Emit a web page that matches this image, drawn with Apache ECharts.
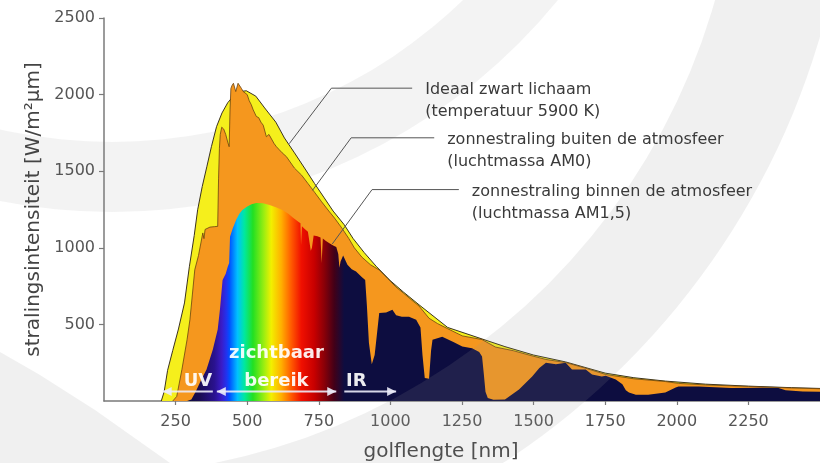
<!DOCTYPE html>
<html>
<head>
<meta charset="utf-8">
<script src="https://cdn.jsdelivr.net/npm/echarts@6/dist/echarts.min.js"></script>
<style>
  html, body { margin: 0; padding: 0; background: #ffffff; }
  #chart { width: 820px; height: 463px; }
</style>
</head>
<body>
<div id="chart"></div>
<script>
// Spectral irradiance, [wavelength in nm, W/m²µm]

// Ideal black body at 5900 K
const blackBody = [
  [200, 0], [210, 60], [222, 200], [240, 330], [260, 470], [281, 640], [298, 876],
  [315, 1080], [327, 1248], [343, 1400], [359, 1529], [375, 1660], [393, 1791],
  [412, 1880], [432, 1947], [456, 2000], [475, 2020], [497, 2025], [530, 1990],
  [561, 1913], [600, 1820], [630, 1717], [665, 1620], [700, 1521], [735, 1420],
  [769, 1326], [800, 1240], [839, 1150], [870, 1060], [908, 970], [950, 880],
  [1000, 785], [1045, 712], [1100, 628], [1200, 480], [1320, 405], [1400, 355],
  [1500, 300], [1612, 255], [1750, 182], [1850, 152], [1960, 130], [2100, 110],
  [2250, 97], [2400, 87], [2500, 82]
];

// Solar irradiance outside the atmosphere (AM0)
const am0 = [
  [240, 0], [254, 30], [272, 205], [290, 400], [300, 530], [317, 857], [330, 950],
  [345, 1097], [349, 1060], [353, 1120], [358, 1130], [370, 1135], [385, 1138],
  [397, 1140], [400, 1450], [403, 1650], [406, 1740], [411, 1787], [418, 1775],
  [425, 1740], [432, 1690], [437, 1660], [440, 1900], [443, 2040], [447, 2060],
  [452, 2074], [456, 2066], [460, 2020], [464, 2030], [468, 2074], [474, 2068],
  [480, 2040], [486, 2020], [492, 2010], [500, 2000], [507, 1960], [514, 1935],
  [521, 1900], [532, 1857], [540, 1850], [548, 1820], [556, 1800], [567, 1725],
  [576, 1740], [585, 1710], [594, 1680], [602, 1660], [612, 1640], [622, 1620],
  [637, 1595], [650, 1560], [665, 1520], [690, 1474], [712, 1420], [735, 1363],
  [760, 1300], [785, 1240], [805, 1194], [830, 1130], [855, 1060], [874, 1000],
  [900, 940], [930, 890], [961, 855], [990, 800], [1019, 745], [1045, 705],
  [1080, 650], [1100, 620], [1135, 540], [1165, 505], [1200, 472], [1251, 425],
  [1320, 401], [1367, 352], [1430, 328], [1484, 300], [1543, 271], [1612, 251],
  [1680, 215], [1752, 173], [1850, 145], [1960, 127], [2006, 115], [2100, 105],
  [2250, 95], [2400, 85], [2500, 80]
];

// Solar irradiance at sea level (AM1.5)
const am15 = [
  [290, 0], [305, 10], [320, 60], [340, 140], [358, 205], [380, 336], [397, 466],
  [405, 600], [414, 790], [425, 830], [432, 877], [437, 900], [440, 1072],
  [450, 1130], [462, 1184], [472, 1220], [483, 1246], [500, 1270], [515, 1285],
  [532, 1292], [555, 1290], [578, 1279], [600, 1265], [623, 1246], [645, 1220],
  [658, 1200], [675, 1175], [686, 1160], [688, 1020], [691, 1140], [700, 1125],
  [712, 1105], [718, 1095], [722, 980], [726, 1000], [732, 1080], [745, 1075],
  [756, 1068], [760, 900], [764, 1060], [775, 1045], [787, 1030], [800, 1015],
  [811, 1005], [818, 960], [822, 870], [826, 910], [835, 950], [850, 890],
  [865, 860], [880, 845], [900, 810], [912, 790], [918, 620], [925, 380],
  [935, 240], [945, 300], [952, 420], [961, 575], [985, 577], [1007, 595],
  [1020, 560], [1040, 550], [1065, 550], [1090, 530], [1105, 480], [1112, 300],
  [1120, 150], [1135, 145], [1142, 330], [1147, 400], [1181, 420], [1220, 385],
  [1251, 355], [1285, 345], [1310, 320], [1320, 290], [1326, 180], [1332, 60],
  [1340, 20], [1360, 8], [1400, 10], [1449, 75], [1495, 160], [1520, 215],
  [1543, 250], [1578, 240], [1612, 250], [1634, 205], [1682, 205], [1704, 173],
  [1738, 160], [1752, 165], [1787, 140], [1810, 110], [1822, 70], [1833, 55],
  [1857, 40], [1900, 40], [1960, 55], [1996, 88], [2006, 95], [2052, 95],
  [2076, 95], [2190, 85], [2300, 86], [2355, 85], [2380, 70], [2440, 62], [2500, 60]
];

// Colour of the visible light along the wavelength axis
const spectrumColours = [
  [290, '#0d0d40'], [334, '#1a0c52'], [386, '#2a1290'], [411, '#3a1cc8'],
  [428, '#2034f0'], [438, '#0050ff'], [466, '#00c0ff'], [490, '#00e8a0'],
  [520, '#22e022'], [560, '#a0ee10'], [584, '#f2f000'], [619, '#ffb000'],
  [654, '#ff5a00'], [689, '#f01000'], [734, '#c80000'], [769, '#8a0008'],
  [804, '#420018'], [839, '#0d0d40'], [2500, '#0d0d40']
];

const xTicks = { min: 0, max: 2500, step: 250 };
const yTicks = { min: 0, max: 2500, step: 500 };

const FONT = 'DejaVu Sans';
const chart = echarts.init(document.getElementById('chart'), null, { renderer: 'canvas' });

const wlStart = am15[0][0];
const wlEnd = am15[am15.length - 1][0];
const spectrumFill = new echarts.graphic.LinearGradient(0, 0, 1, 0,
  spectrumColours.map(([nm, c]) => ({ offset: (nm - wlStart) / (wlEnd - wlStart), color: c })));

const plainNumber = v => String(v);

chart.setOption({
  animation: false,
  backgroundColor: '#ffffff',
  grid: { left: 104, right: 0, top: 18, bottom: 62, containLabel: false, outerBoundsMode: 'none' },
  xAxis: {
    type: 'value',
    min: xTicks.min, max: xTicks.max, interval: xTicks.step,
    name: 'golflengte [nm]',
    nameLocation: 'middle',
    nameGap: 41,
    nameTextStyle: { fontFamily: FONT, fontSize: 20, color: '#444', padding: [0, 42, 0, 0] },
    axisLine: { show: true, lineStyle: { color: '#7a7a7a', width: 1.5 } },
    axisTick: { show: true, length: 4, lineStyle: { color: '#7a7a7a', width: 1.2 } },
    axisLabel: { fontFamily: FONT, fontSize: 16, color: '#555', margin: 13, showMinLabel: false, showMaxLabel: false, formatter: plainNumber },
    splitLine: { show: false }
  },
  yAxis: {
    type: 'value',
    min: yTicks.min, max: yTicks.max, interval: yTicks.step,
    name: 'stralingsintensiteit [W/m²µm]',
    nameLocation: 'middle',
    nameGap: 60,
    nameTextStyle: { fontFamily: FONT, fontSize: 20, color: '#444' },
    axisLine: { show: true, lineStyle: { color: '#7a7a7a', width: 1.5 } },
    axisTick: { show: true, length: 5, lineStyle: { color: '#7a7a7a', width: 1.2 } },
    axisLabel: { fontFamily: FONT, fontSize: 16, color: '#555', margin: 9, showMinLabel: false, formatter: plainNumber },
    splitLine: { show: false }
  },
  series: [
    {
      name: 'Ideaal zwart lichaam', type: 'line', data: blackBody, symbol: 'none', silent: true, z: 2,
      lineStyle: { color: '#3b3320', width: 1 },
      areaStyle: { color: '#f5ef1c', opacity: 1 }
    },
    {
      name: 'AM0', type: 'line', data: am0, symbol: 'none', silent: true, z: 3,
      lineStyle: { color: '#6b4210', width: 0.8 },
      areaStyle: { color: '#f5971e', opacity: 1 }
    },
    {
      name: 'AM1,5', type: 'line', data: am15, symbol: 'none', silent: true, z: 4,
      lineStyle: { width: 0, opacity: 0 },
      areaStyle: { color: spectrumFill, opacity: 1 }
    }
  ]
});

// Callouts: curve anchor, elbow, end of the horizontal leg (data coordinates)
const callouts = [
  { pts: [[647, 1680], [794, 2042], [1076, 2042]], text: 'Ideaal zwart lichaam\n(temperatuur 5900 K)' },
  { pts: [[728, 1375], [863, 1718], [1153, 1718]], text: 'zonnestraling buiten de atmosfeer\n(luchtmassa AM0)' },
  { pts: [[797, 1025], [936, 1380], [1239, 1380]], text: 'zonnestraling binnen de atmosfeer\n(luchtmassa AM1,5)' }
];

// Wavelength bands drawn along the bottom of the plot
const bands = [
  { label: 'UV', at: [328, 128], arrow: [205, 380], heads: ['start'] },
  { label: 'zichtbaar\nbereik', at: [602, 219], arrow: [394, 811], heads: ['start', 'end'] },
  { label: 'IR', at: [881, 128], arrow: [839, 1020], heads: ['end'] }
];
const arrowLevel = 62;

function px(p) { return chart.convertToPixel({ gridIndex: 0 }, p); }

function buildGraphics() {
  const els = [];
  const haze = 'rgba(150,150,150,0.14)';

  // faint background rings: the inner one sits behind the curves, the outer one veils them
  els.push({
    type: 'sector', silent: true, z: 0,
    shape: { cx: 112, cy: -363, r0: 505, r: 575, startAngle: 0, endAngle: Math.PI, clockwise: true },
    style: { fill: 'rgba(150,150,150,0.11)' }
  });
  els.push({
    type: 'sector', silent: true, z: 10,
    shape: { cx: 85, cy: -179, r0: 655, r: 766, startAngle: 0, endAngle: Math.PI, clockwise: true },
    style: { fill: haze }
  });
  els.push({
    type: 'polygon', silent: true, z: 0,
    shape: { points: [[0, 352], [40, 375], [95, 410], [170, 463], [0, 463]] },
    style: { fill: haze }
  });

  callouts.forEach(c => {
    const p = c.pts.map(px);
    els.push({
      type: 'polyline', silent: true, z: 20,
      shape: { points: p },
      style: { stroke: '#555', lineWidth: 1, fill: null }
    });
    const end = p[p.length - 1];
    els.push({
      type: 'text', silent: true, z: 20,
      x: end[0] + 13, y: end[1] - 9,
      style: { text: c.text, fontFamily: FONT, fontSize: 16, lineHeight: 22, fill: '#3a3a3a', align: 'left', verticalAlign: 'top' }
    });
  });

  bands.forEach(b => {
    const a = px([b.arrow[0], arrowLevel]);
    const e = px([b.arrow[1], arrowLevel]);
    const col = 'rgba(236,236,250,0.9)';
    els.push({
      type: 'line', silent: true, z: 20,
      shape: { x1: a[0], y1: a[1], x2: e[0], y2: e[1] },
      style: { stroke: col, lineWidth: 2 }
    });
    b.heads.forEach(h => {
      const tip = h === 'start' ? a : e;
      const dir = h === 'start' ? 1 : -1;
      els.push({
        type: 'polygon', silent: true, z: 20,
        shape: { points: [[tip[0], tip[1]], [tip[0] + dir * 9, tip[1] - 4.5], [tip[0] + dir * 9, tip[1] + 4.5]] },
        style: { fill: col }
      });
    });
    const t = px(b.at);
    els.push({
      type: 'text', silent: true, z: 20,
      x: t[0], y: t[1],
      style: { text: b.label, fontFamily: FONT, fontWeight: 'bold', fontSize: 18, lineHeight: 28,
               fill: 'rgba(255,255,255,0.92)', align: 'center', verticalAlign: 'middle' }
    });
  });
  return els;
}

chart.setOption({ graphic: buildGraphics() });
</script>
</body>
</html>
